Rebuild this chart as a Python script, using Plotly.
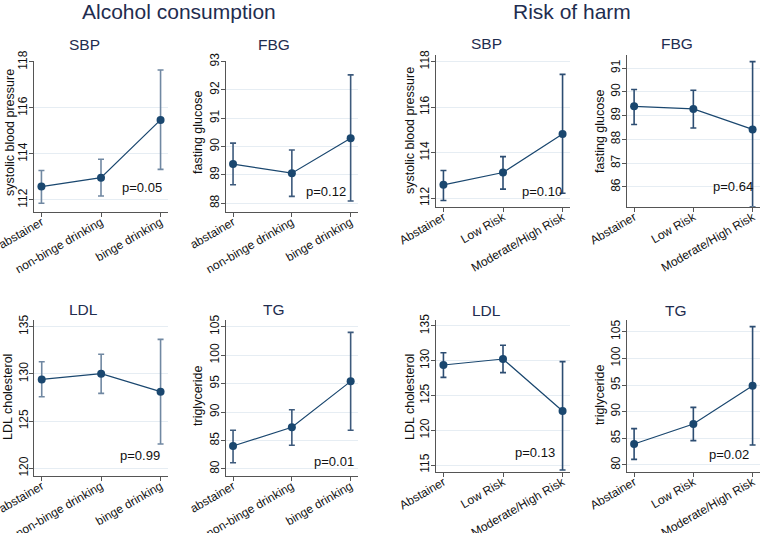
import plotly.graph_objects as go

# ---------------- data ----------------
alc_cats = ["abstainer", "non-binge drinking", "binge drinking"]
risk_cats = ["Abstainer", "Low Risk", "Moderate/High Risk"]

alc_sbp = [112.58, 112.97, 115.48]
alc_sbp_lo = [111.86, 112.17, 113.33]
alc_sbp_hi = [113.28, 113.77, 117.65]

alc_fbg = [89.38, 89.06, 90.29]
alc_fbg_lo = [88.65, 88.24, 88.08]
alc_fbg_hi = [90.12, 89.88, 92.53]

alc_ldl = [129.42, 130.02, 128.12]
alc_ldl_lo = [127.58, 127.94, 122.58]
alc_ldl_hi = [131.29, 132.08, 133.66]

alc_tg = [84.04, 87.32, 95.40]
alc_tg_lo = [81.10, 84.16, 86.80]
alc_tg_hi = [86.80, 90.42, 104.00]

risk_sbp = [112.59, 113.13, 114.82]
risk_sbp_lo = [111.90, 112.40, 112.22]
risk_sbp_hi = [113.22, 113.83, 117.44]

risk_fbg = [89.39, 89.28, 88.42]
risk_fbg_lo = [88.63, 88.48, 85.17]
risk_fbg_hi = [90.10, 90.07, 91.27]

risk_ldl = [129.39, 130.25, 122.77]
risk_ldl_lo = [127.61, 128.29, 114.28]
risk_ldl_hi = [131.16, 132.22, 129.87]

risk_tg = [83.94, 87.69, 94.88]
risk_tg_lo = [81.06, 84.56, 83.75]
risk_tg_hi = [86.81, 90.81, 105.94]

panel_titles = ["SBP", "FBG", "SBP", "FBG", "LDL", "TG", "LDL", "TG"]
y_titles = ["systolic blood pressure", "fasting glucose", "systolic blood pressure", "fasting glucose",
            "LDL cholesterol", "triglyceride", "LDL cholesterol", "triglyceride"]
p_values = ["p=0.05", "p=0.12", "p=0.10", "p=0.64", "p=0.99", "p=0.01", "p=0.13", "p=0.02"]

# ---------------- layout geometry (pixels) ----------------
W, H = 760, 533
FONT = "Liberation Sans, Arial, Helvetica, sans-serif"
NAVY = "#1a476f"
TITLE_C = "#1f2d4f"

panels = [
    # cats, mean, lo, hi, x px [l, r], y px [top, bottom], yrange, dtick, bar color
    (alc_cats, alc_sbp, alc_sbp_lo, alc_sbp_hi, (34, 168), (61, 211.7), (111.49, 118.04), 2, "#7088a2"),
    (alc_cats, alc_fbg, alc_fbg_lo, alc_fbg_hi, (225.7, 358), (61, 211.7), (87.70, 93.02), 1, "#3d5a7c"),
    (risk_cats, risk_sbp, risk_sbp_lo, risk_sbp_hi, (436, 570), (55, 206.7), (111.63, 118.29), 2, "#2c4d72"),
    (risk_cats, risk_fbg, risk_fbg_lo, risk_fbg_hi, (626.7, 760), (55, 206.7), (85.17, 91.55), 1, "#2c4d72"),
    (alc_cats, alc_ldl, alc_ldl_lo, alc_ldl_hi, (34.3, 168), (320, 475.7), (119.22, 135.71), 5, "#7088a2"),
    (alc_cats, alc_tg, alc_tg_lo, alc_tg_hi, (225.7, 358), (320, 475.7), (78.82, 106.18), 5, "#3d5a7c"),
    (risk_cats, risk_ldl, risk_ldl_lo, risk_ldl_hi, (436, 570), (320, 471.7), (114.04, 135.86), 5, "#2c4d72"),
    (risk_cats, risk_tg, risk_tg_lo, risk_tg_hi, (626.7, 760), (320, 471.7), (78.74, 107.19), 5, "#2c4d72"),
]

title_pos = [(84, 44), (274, 44), (486, 43), (677, 43), (83, 309), (274, 309), (486, 310), (676, 310)]
ytitle_pos = [(10, 133), (198, 132), (410, 131), (600, 132), (8, 397), (198, 396), (410, 397), (600, 395)]
p_pos = [(141.7, 188), (326, 192), (542, 192), (733, 186), (139.5, 455), (334, 461), (535, 452), (729, 454)]

fig = go.Figure()
annotations = []


def px_x(v):
    return v / W


def px_y(v):
    return 1 - v / H


for i, (cats, mean, lo, hi, xpx, ypx, yr, dt, barc) in enumerate(panels):
    k = "" if i == 0 else str(i + 1)
    xa, ya = "x" + k, "y" + k
    plus = [h - m for h, m in zip(hi, mean)]
    minus = [m - l for m, l in zip(mean, lo)]
    fig.add_trace(go.Scatter(
        x=cats, y=mean, xaxis=xa, yaxis=ya, mode="lines+markers",
        line=dict(color=NAVY, width=1.2),
        marker=dict(color=NAVY, size=8),
        error_y=dict(type="data", array=plus, arrayminus=minus, visible=True,
                     color=barc, thickness=1.6, width=3),
        showlegend=False, cliponaxis=False,
    ))
    common_ax = dict(showline=True, linecolor="#555555", linewidth=1, ticks="outside",
                     ticklen=4, tickcolor="#555555", tickfont=dict(family=FONT, size=12, color="#111111"),
                     zeroline=False, automargin=False)
    fig.layout["xaxis" + k] = dict(
        domain=[px_x(xpx[0]), px_x(xpx[1])], anchor=ya, type="category",
        range=[-0.125, 2.125], tickangle=-30, showgrid=False, ticklabelstandoff=-6, **common_ax)
    fig.layout["yaxis" + k] = dict(
        domain=[px_y(ypx[1]), px_y(ypx[0])], anchor=xa, range=list(yr), dtick=dt,
        tickangle=-90, showgrid=True, gridcolor="#e6edf3", gridwidth=1, ticklabelstandoff=-3,
        **common_ax)

    tx, ty = title_pos[i]
    annotations.append(dict(text=panel_titles[i], x=px_x(tx), y=px_y(ty), xref="paper", yref="paper",
                            showarrow=False, xanchor="center", yanchor="middle",
                            font=dict(family=FONT, size=15.5, color=TITLE_C)))
    yx, yy = ytitle_pos[i]
    annotations.append(dict(text=y_titles[i], x=px_x(yx), y=px_y(yy), xref="paper", yref="paper",
                            showarrow=False, xanchor="center", yanchor="middle", textangle=-90,
                            font=dict(family=FONT, size=12.5, color="#111111")))
    pxx, pyy = p_pos[i]
    annotations.append(dict(text=p_values[i], x=px_x(pxx), y=px_y(pyy), xref="paper", yref="paper",
                            showarrow=False, xanchor="center", yanchor="middle",
                            font=dict(family=FONT, size=13, color="#111111")))

annotations.append(dict(text="Alcohol consumption", x=px_x(179), y=px_y(12), xref="paper", yref="paper",
                        showarrow=False, xanchor="center", yanchor="middle",
                        font=dict(family=FONT, size=21, color=TITLE_C)))
annotations.append(dict(text="Risk of harm", x=px_x(572), y=px_y(12), xref="paper", yref="paper",
                        showarrow=False, xanchor="center", yanchor="middle",
                        font=dict(family=FONT, size=21, color=TITLE_C)))

fig.update_layout(
    template="none",
    width=W, height=H, margin=dict(l=0, r=0, t=0, b=0, autoexpand=False),
    paper_bgcolor="white", plot_bgcolor="white",
    annotations=annotations,
)

fig.write_html("out.html", config={"displayModeBar": False},
               post_script="document.body.style.margin='0px';document.body.style.overflow='hidden';")
